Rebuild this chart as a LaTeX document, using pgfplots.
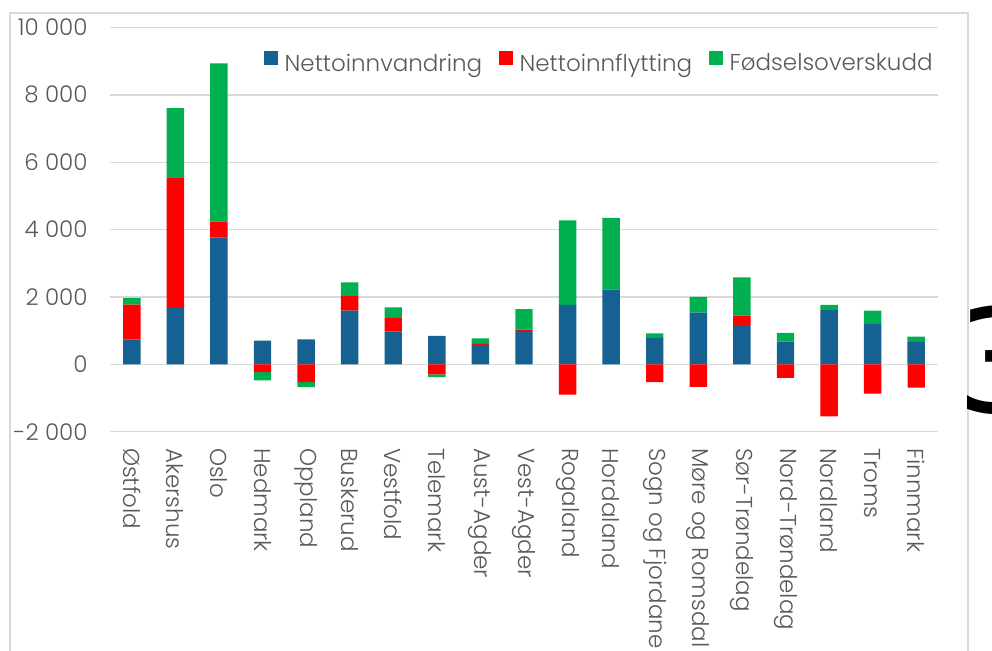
\documentclass[border=0pt]{standalone}
\usepackage{pgfplots}
\pgfplotsset{compat=1.18}
\usepackage{pgfplotstable}
\usepackage{fontspec}
\setmainfont{Poppins}[UprightFont=* Light]
\newfontfamily\threefont{DejaVu Sans}
\definecolor{cblue}{HTML}{156192}
\definecolor{cred}{HTML}{FF0000}
\definecolor{cgreen}{HTML}{00B050}
\definecolor{cgrid}{HTML}{D9D9D9}
\definecolor{ctext}{HTML}{595959}

% x, Nettoinnvandring, Nettoinnflytting (+/-), Fødselsoverskudd (+/-)
\pgfplotstableread{
x blue redpos greenpos redneg greenneg
0  733  1040 200  0     0
1  1673 3880 2050 0     0
2  3762 475  4700 0     0
3  703  0    0    -230  -250
4  743  0    0    -525  -150
5  1594 435  405  0     0
6  970  405  317  0     0
7  841  0    0    -300  -80
8  574  30   170  0     0
9  990  40   610  0     0
10 1762 0    2515 -900  0
11 2218 0    2130 0     0
12 782  0    140  -525  0
13 1534 0    465  -673  0
14 1138 307  1140 0     0
15 673  0    258  -406  0
16 1614 0    148  -1544 0
17 1198 0    396  -871  0
18 663  0    158  -693  0
}\data

\pgfplotsset{
  common/.style={
    width=414pt, height=202.1pt, scale only axis,
    at={(55pt,109.65pt)}, anchor=south west,
    xmin=-0.5, xmax=18.5, ymin=-2000, ymax=10000,
    scaled y ticks=false,
    ybar stacked, bar width=0.4,
  }
}

\begin{document}
\begin{tikzpicture}
\useasboundingbox (0,0) rectangle (496pt,325.5pt);
\clip (0,0) rectangle (496pt,325.5pt);
\draw[cgrid, line width=0.75pt] (5pt,-10pt) -- (5pt,319pt) -- (484pt,319pt) -- (484pt,-10pt);
\node[anchor=base west, inner sep=0pt, font=\threefont\fontsize{72}{72}\selectfont] at (478pt,119pt) {3};

\begin{axis}[common,
  axis line style={draw=none},
  tick style={draw=none},
  ymajorgrids,
  major grid style={color=cgrid, line width=0.7pt},
  ytick={-2000,0,2000,4000,6000,8000,10000},
  yticklabels={-2 000,0,2 000,4 000,6 000,8 000,10 000},
  xtick={0,...,18},
  xticklabels={Østfold,Akershus,Oslo,Hedmark,Oppland,Buskerud,Vestfold,Telemark,Aust-Agder,Vest-Agder,Rogaland,Hordaland,{Sogn og Fjordane},{Møre og Romsdal},Sør-Trøndelag,Nord-Trøndelag,Nordland,Troms,Finnmark},
  tick label style={font=\fontsize{11.5}{13}\selectfont, text=ctext},
  xticklabel style={rotate=-90, anchor=west, inner sep=0pt},
  xticklabel shift=8pt,
  yticklabel style={anchor=east, inner sep=0pt},
  yticklabel shift=11pt,
  legend style={at={(0.997,0.944)}, anchor=north east, draw=none, fill=none,
    inner sep=0pt,
    font=\fontsize{11.5}{13}\selectfont, text=ctext,
    legend columns=-1,
    nodes={inner sep=1.25pt},
    /tikz/every even column/.append style={column sep=7pt}},
  legend cell align=left,
]
\addlegendimage{legend image code/.code={\fill[cblue] (0pt,0pt) rectangle (6.5pt,6.5pt); \path (8.8pt,0pt);}}
\addlegendentry{Nettoinnvandring}
\addlegendimage{legend image code/.code={\fill[cred] (0pt,0pt) rectangle (6.5pt,6.5pt); \path (8.8pt,0pt);}}
\addlegendentry{Nettoinnflytting}
\addlegendimage{legend image code/.code={\fill[cgreen] (0pt,0pt) rectangle (6.5pt,6.5pt); \path (8.8pt,0pt);}}
\addlegendentry{Fødselsoverskudd}
\addplot[fill=cblue, draw=none, forget plot] table[x=x, y=blue] {\data};
\addplot[fill=cred, draw=none, forget plot] table[x=x, y=redpos] {\data};
\addplot[fill=cgreen, draw=none, forget plot] table[x=x, y=greenpos] {\data};
\end{axis}

\begin{axis}[common, hide axis]
\addplot[fill=cred, draw=none] table[x=x, y=redneg] {\data};
\addplot[fill=cgreen, draw=none] table[x=x, y=greenneg] {\data};
\end{axis}
\end{tikzpicture}
\end{document}
